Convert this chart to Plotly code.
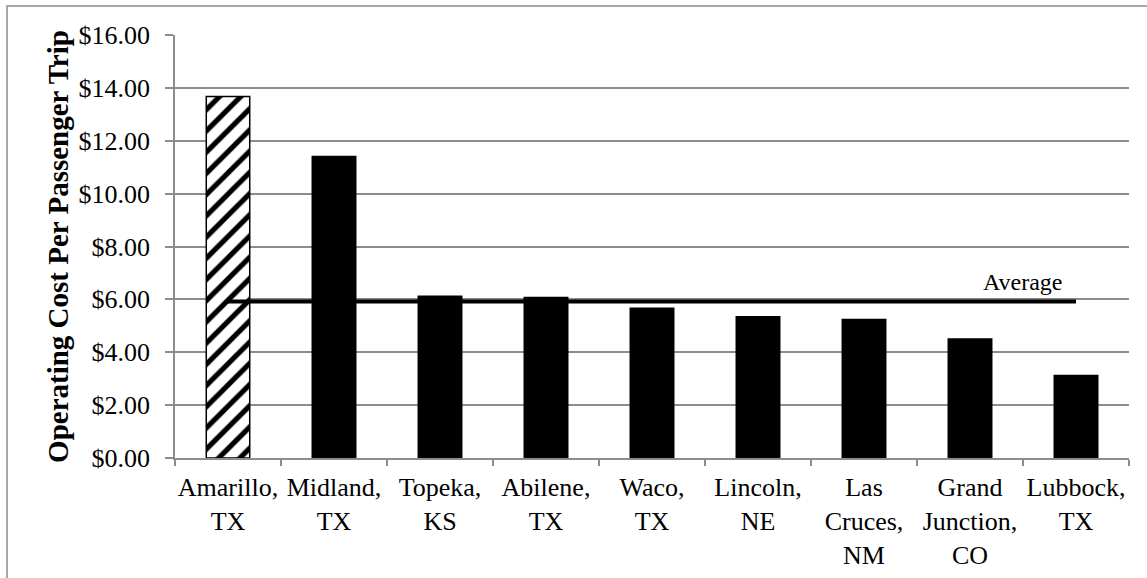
import plotly.graph_objects as go

categories = ["Amarillo,<br>TX", "Midland,<br>TX", "Topeka,<br>KS", "Abilene,<br>TX", "Waco,<br>TX",
              "Lincoln,<br>NE", "Las<br>Cruces,<br>NM", "Grand<br>Junction,<br>CO", "Lubbock,<br>TX"]
cost = [13.67, 11.40, 6.12, 6.07, 5.66, 5.34, 5.24, 4.50, 3.12]
average = 5.92
patterns = ["/", "", "", "", "", "", "", "", ""]
y_ticks = [0, 2, 4, 6, 8, 10, 12, 14, 16]
y_tick_labels = ["$%.2f" % v for v in y_ticks]

FONT = "Liberation Serif, Times New Roman, serif"
FS = 26

fig = go.Figure()
fig.add_trace(go.Bar(
    x=categories, y=cost, width=0.41,
    marker=dict(color="black", line=dict(color="black", width=1.5),
                pattern=dict(shape=patterns, fgcolor="black", bgcolor="white",
                             size=15, solidity=0.35, fillmode="replace")),
    showlegend=False, hoverinfo="x+y",
))
fig.add_trace(go.Scatter(
    x=[categories[0], categories[-1]], y=[average, average], mode="lines",
    line=dict(color="black", width=4), showlegend=False,
))
fig.add_annotation(text="Average", xref="paper", x=0.889, yref="y", y=6.67,
                   showarrow=False, font=dict(family=FONT, size=FS - 2, color="black"),
                   xanchor="center", yanchor="middle")
# outer chart border (Excel chart area)
fig.add_shape(type="rect", xref="paper", yref="paper", x0=-0.1761, x1=1.2, y0=-0.5, y1=1.0686,
              line=dict(color="#8c8c8c", width=1.5), fillcolor="rgba(0,0,0,0)", layer="below")

fig.update_layout(
    width=1147, height=578,
    margin=dict(l=175, r=18, t=35, b=120),
    paper_bgcolor="white", plot_bgcolor="white",
    font=dict(family=FONT, size=FS, color="black"),
    xaxis=dict(type="category", showline=True, linecolor="#8c8c8c", linewidth=1.5,
               ticks="outside", tickson="boundaries", ticklen=6, tickcolor="#8c8c8c",
               tickwidth=1.5, showgrid=False, tickfont=dict(family=FONT, size=FS, color="black"),
               tickangle=0, ticklabelstandoff=5, automargin=False),
    yaxis=dict(range=[0, 16], tickvals=y_ticks, ticktext=y_tick_labels,
               showline=True, linecolor="#8c8c8c", linewidth=1.5,
               ticks="outside", ticklen=8, tickcolor="#8c8c8c", tickwidth=1.5,
               showgrid=True, gridcolor="#8c8c8c", gridwidth=1.5, zeroline=False,
               ticklabelstandoff=10, automargin=False,
               tickfont=dict(family=FONT, size=FS, color="black"),
               title=dict(text="<b>Operating Cost Per Passenger Trip</b>",
                          font=dict(family=FONT, size=29, color="black"), standoff=1)),
)
fig.write_html("out.html")
